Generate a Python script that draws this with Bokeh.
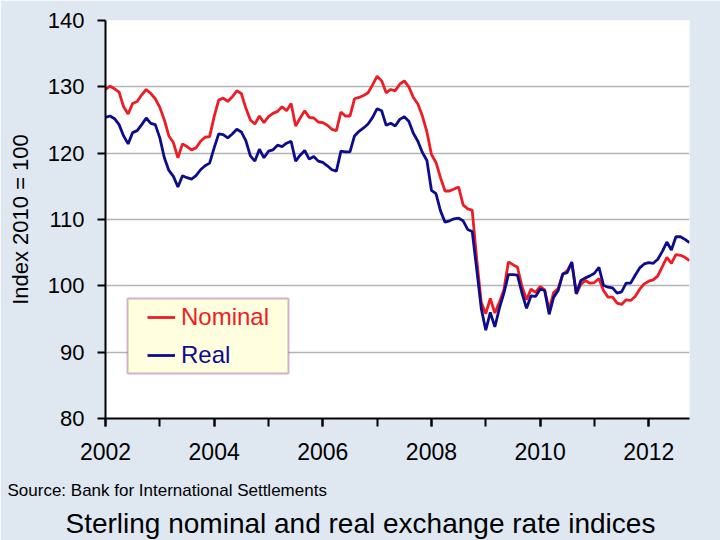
from bokeh.plotting import figure
from bokeh.models import Range1d, FixedTicker, Legend, LegendItem, BoxAnnotation, Title
from bokeh.embed import file_html
from bokeh.resources import INLINE

# ---- data (monthly, Jan 2002 - Oct 2012) ----
nominal = [
    129.6, 130.1, 129.7, 129.2, 127.0, 125.9, 127.5, 127.8, 128.8, 129.6, 129.0, 128.2,
    126.9, 125.0, 122.6, 121.6, 119.3, 121.4, 121.0, 120.5, 120.8, 121.8, 122.4, 122.5,
    125.5, 128.0, 128.3, 127.8, 128.5, 129.4, 129.0, 126.8, 125.0, 124.4, 125.6, 124.6,
    125.5, 126.0, 126.3, 127.0, 126.4, 127.5, 124.1, 125.3, 126.4, 125.4, 125.3, 124.7,
    124.6, 124.2, 123.6, 123.4, 126.2, 125.6, 125.6, 128.2, 128.4, 128.7, 129.1, 130.3,
    131.6, 130.9, 129.1, 129.6, 129.4, 130.4, 130.9, 130.0, 128.4, 127.4, 125.6, 123.2,
    119.8, 118.6, 116.3, 114.3, 114.3, 114.6, 114.9, 112.2, 111.6, 111.4, 104.0, 97.5,
    95.8, 98.1, 95.9, 97.5, 99.4, 103.6, 103.2, 102.8, 99.9, 97.9, 99.5, 99.0,
    99.9, 99.4, 96.4, 99.0, 99.6, 101.7, 102.3, 103.5, 98.8, 100.2, 100.8, 100.4,
    100.5, 101.1, 99.3, 98.3, 98.3, 97.4, 97.2, 97.9, 97.8, 98.4, 99.5, 100.3,
    100.7, 100.9, 101.5, 102.9, 104.3, 103.4, 104.7, 104.6, 104.3, 103.8,
]
real = [
    125.4, 125.6, 125.2, 124.3, 122.6, 121.4, 123.1, 123.4, 124.3, 125.3, 124.5, 124.3,
    122.3, 119.3, 117.4, 116.5, 114.9, 116.6, 116.3, 116.1, 116.6, 117.5, 118.1, 118.5,
    120.8, 122.9, 122.8, 122.3, 122.9, 123.6, 123.2, 121.9, 119.6, 118.8, 120.6, 119.3,
    120.3, 120.5, 121.2, 121.0, 121.5, 121.8, 118.8, 119.7, 120.4, 119.1, 119.5, 118.8,
    118.6, 118.1, 117.5, 117.3, 120.3, 120.2, 120.2, 122.6, 123.3, 123.8, 124.4, 125.4,
    126.7, 126.4, 124.2, 124.5, 124.1, 125.1, 125.5, 124.8, 123.0, 121.8, 120.1, 118.9,
    114.4, 113.9, 111.3, 109.6, 109.8, 110.1, 110.2, 109.8, 108.5, 108.2, 102.5, 96.6,
    93.3, 96.0, 93.8, 96.6, 98.9, 101.7, 101.7, 101.6, 98.9, 96.6, 98.5, 98.4,
    99.5, 99.3, 95.7, 98.3, 99.3, 101.8, 102.0, 103.6, 98.8, 100.8, 101.2, 101.5,
    101.9, 102.8, 100.1, 99.8, 99.7, 98.9, 99.1, 100.4, 100.4, 101.6, 102.7, 103.3,
    103.5, 103.4, 104.0, 105.2, 106.6, 105.4, 107.4, 107.4, 107.0, 106.5,
]
start_year = 2002
months = [start_year + i / 12 for i in range(len(nominal))]
year_ticks = list(range(2002, 2013))
label_years = [y for y in year_ticks if y % 2 == 0]
y_ticks = [80, 90, 100, 110, 120, 130, 140]

BG = "#DFE7F1"
RED = "#EE1C24"
NAVY = "#0D0D8C"
FONT = "Liberation Sans"

p = figure(width=720, height=540, output_backend="svg", toolbar_location=None,
           x_range=Range1d(2002, 2012.75), y_range=Range1d(80, 140),
           min_border_left=105, min_border_right=31, min_border_top=20,
           min_border_bottom=122)
p.background_fill_color = "white"
p.border_fill_color = BG
p.outline_line_color = None

# axes
p.xaxis.ticker = FixedTicker(ticks=label_years, minor_ticks=year_ticks)
p.yaxis.ticker = FixedTicker(ticks=y_ticks)
for ax in (p.xaxis[0], p.yaxis[0]):
    ax.axis_line_color = "black"
    ax.axis_line_width = 2
    ax.major_tick_line_color = "black"
    ax.major_tick_line_width = 2
    ax.major_tick_in = 0
    ax.major_tick_out = 8
    ax.major_label_text_font = FONT
    ax.major_label_text_color = "black"
p.xaxis.minor_tick_line_color = "black"
p.xaxis.minor_tick_line_width = 2
p.xaxis.minor_tick_in = 0
p.xaxis.minor_tick_out = 8
p.yaxis.minor_tick_line_color = None
p.xaxis.major_label_text_font_size = "23px"
p.xaxis.major_label_standoff = 16
p.yaxis.major_label_text_font_size = "22px"
p.yaxis.major_label_standoff = 13
p.yaxis.axis_label = "Index 2010 = 100"
p.yaxis.axis_label_text_font = FONT
p.yaxis.axis_label_text_font_size = "22px"
p.yaxis.axis_label_text_font_style = "normal"
p.yaxis.axis_label_text_color = "black"
p.yaxis.axis_label_standoff = 12

p.xgrid.grid_line_color = None
p.ygrid.grid_line_color = "#B4B4B4"
p.ygrid.grid_line_width = 1.5

# series
r_nom = p.line(months, nominal, line_color=RED, line_width=2.8)
r_real = p.line(months, real, line_color=NAVY, line_width=2.8)

# legend box + entries
box = BoxAnnotation(left=22, right=183, bottom=45, top=120,
                    left_units="screen", right_units="screen",
                    bottom_units="screen", top_units="screen",
                    fill_color="#FFFFE0", fill_alpha=1.0,
                    line_color="#660066", line_width=2)
p.add_layout(box)

def make_legend(label, renderer, color, loc):
    return Legend(items=[LegendItem(label=label, renderers=[renderer])],
                  location=loc, padding=0, margin=0, spacing=0,
                  glyph_width=28, glyph_height=20, label_standoff=6,
                  label_text_font=FONT, label_text_font_size="24px",
                  label_text_color=color, border_line_color=None,
                  background_fill_alpha=0)

p.add_layout(make_legend("Nominal", r_nom, RED, (42, 87)))
p.add_layout(make_legend("Real", r_real, NAVY, (42, 49)))

# source + title texts below the axis
src = Title(text="Source: Bank for International Settlements", align="left",
            offset=-98, standoff=32, text_font=FONT, text_font_size="17px",
            text_font_style="normal", text_color="black")
p.add_layout(src, "below")
ttl = Title(text="Sterling nominal and real exchange rate indices", align="left",
            offset=-40, standoff=-20, text_font=FONT, text_font_size="28px",
            text_font_style="normal", text_color="black")
p.add_layout(ttl, "below")

open("out.html", "w").write(file_html(p, INLINE))
